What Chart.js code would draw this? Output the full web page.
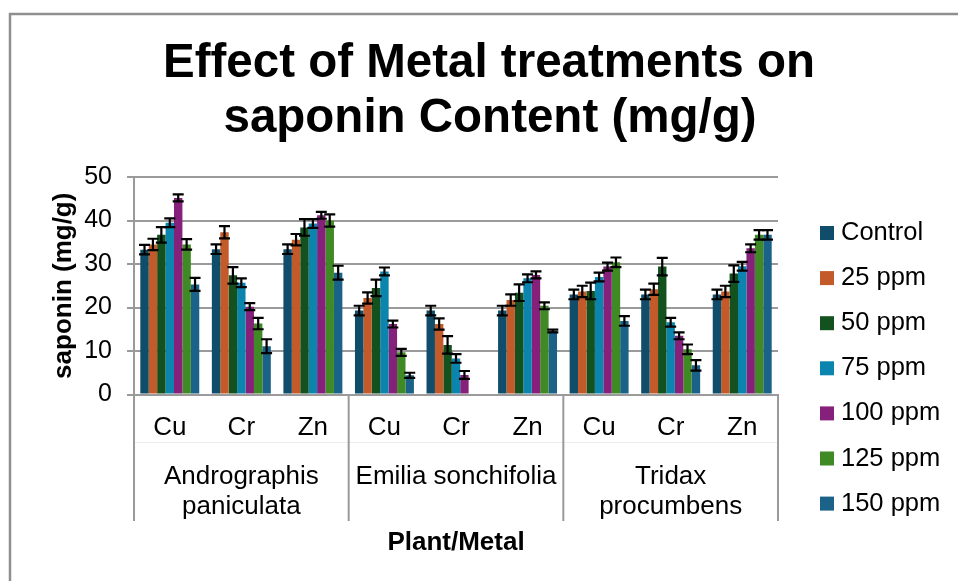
<!DOCTYPE html>
<html>
<head>
<meta charset="utf-8">
<title>Effect of Metal treatments on saponin Content</title>
<script src="https://cdn.jsdelivr.net/npm/chart.js@4"></script>
<style>
  html, body { margin: 0; padding: 0; background: #fff; }
  #wrap { width: 958px; height: 581px; }
</style>
</head>
<body>
<div id="wrap"><canvas id="chart" width="958" height="581"></canvas></div>
<script>
// categories (metal under each plant)
const metals = ['Cu', 'Cr', 'Zn', 'Cu', 'Cr', 'Zn', 'Cu', 'Cr', 'Zn'];
const plants = [['Andrographis', 'paniculata'], ['Emilia sonchifolia'], ['Tridax', 'procumbens']];
const doses = ['Control', '25 ppm', '50 ppm', '75 ppm', '100 ppm', '125 ppm', '150 ppm'];

// saponin (mg/g), one array per dose
const control = [33.3, 33.4, 33.4, 19.3, 19.3, 19.3, 23.0, 23.0, 23.0];
const ppm25   = [34.5, 37.3, 35.6, 22.2, 16.2, 21.7, 23.7, 24.2, 23.7];
const ppm50   = [36.7, 27.4, 38.4, 24.5, 11.4, 23.4, 23.8, 29.4, 27.8];
const ppm75   = [39.5, 25.7, 39.3, 28.3, 8.3, 26.7, 27.0, 16.6, 29.5];
const ppm100  = [45.2, 20.2, 41.2, 16.2, 4.5, 27.5, 29.4, 13.5, 33.6];
const ppm125  = [34.5, 16.3, 40.0, 9.7, 0, 20.4, 30.4, 10.4, 36.7];
const ppm150  = [25.3, 11.1, 28.0, 4.4, 0, 14.6, 16.9, 6.7, 36.7];

// error bar half-lengths
const errControl = [1.1, 1.1, 1.1, 1.1, 1.1, 1.1, 1.1, 1.1, 1.1];
const err25      = [1.3, 1.4, 1.3, 1.3, 1.3, 1.3, 1.3, 1.3, 1.3];
const err50      = [1.8, 1.9, 1.9, 1.9, 2.0, 1.9, 1.9, 2.0, 1.9];
const err75      = [1.0, 1.0, 1.0, 0.9, 1.0, 0.9, 1.0, 1.0, 1.0];
const err100     = [0.8, 0.8, 0.8, 0.8, 0.9, 0.8, 0.9, 0.8, 0.9];
const err125     = [1.2, 1.3, 1.4, 0.8, 0, 0.8, 1.1, 1.1, 1.1];
const err150     = [1.5, 1.6, 1.6, 0.6, 0, 0.3, 1.1, 1.2, 1.1];

const yTicks = [0, 10, 20, 30, 40, 50];

const colors = ['#0f4d6b', '#c35a2a', '#13521f', '#0b84ae', '#85207b', '#3f8a24', '#1a6287'];
const series = [control, ppm25, ppm50, ppm75, ppm100, ppm125, ppm150];
const errors = [errControl, err25, err50, err75, err100, err125, err150];

const FONT = '"Liberation Sans", Arial, sans-serif';
const GRID = '#9a9a9a';

// frame, title, legend, plant labels, error bars
const decor = {
  id: 'decor',
  beforeDraw(chart) {
    const ctx = chart.ctx;
    ctx.save();
    ctx.strokeStyle = '#8f8f8f';
    ctx.lineWidth = 2.5;
    ctx.strokeRect(10, 14, 1000, 1000);
    ctx.restore();
  },
  afterDatasetsDraw(chart) {
    const ctx = chart.ctx;
    const y = chart.scales.y;
    ctx.save();
    ctx.strokeStyle = '#000';
    ctx.lineWidth = 2.2;
    chart.data.datasets.forEach((ds, d) => {
      const meta = chart.getDatasetMeta(d);
      meta.data.forEach((bar, i) => {
        const v = ds.data[i], e = errors[d][i];
        if (!v) return;
        const top = y.getPixelForValue(v + e), bot = y.getPixelForValue(v - e);
        const half = 5.5;
        ctx.beginPath();
        ctx.moveTo(bar.x, top); ctx.lineTo(bar.x, bot);
        ctx.moveTo(bar.x - half, top); ctx.lineTo(bar.x + half, top);
        ctx.moveTo(bar.x - half, bot); ctx.lineTo(bar.x + half, bot);
        ctx.stroke();
      });
    });
    ctx.restore();
  },
  afterDraw(chart) {
    const ctx = chart.ctx;
    const x = chart.scales.x;
    const area = chart.chartArea;
    ctx.save();

    // title
    ctx.fillStyle = '#000';
    ctx.textAlign = 'center';
    ctx.textBaseline = 'alphabetic';
    ctx.font = 'bold 47.5px ' + FONT;
    ctx.fillText('Effect of Metal treatments on', 489, 77);
    ctx.fillText('saponin Content (mg/g)', 490, 131.5);

    // category axis separators
    const step = x.getPixelForValue(1) - x.getPixelForValue(0);
    const bounds = [x.left, x.getPixelForValue(2) + step / 2, x.getPixelForValue(5) + step / 2, x.right];
    ctx.strokeStyle = '#ededed';
    ctx.lineWidth = 1;
    ctx.beginPath();
    ctx.moveTo(bounds[0], 442.5); ctx.lineTo(bounds[3], 442.5);
    ctx.stroke();
    ctx.strokeStyle = GRID;
    ctx.lineWidth = 2;
    ctx.beginPath();
    bounds.forEach(bx => { ctx.moveTo(bx, area.bottom); ctx.lineTo(bx, 521); });
    ctx.stroke();

    // plant labels
    ctx.font = '26px ' + FONT;
    ctx.textBaseline = 'middle';
    plants.forEach((lines, g) => {
      const cx = x.getPixelForValue(g * 3 + 1);
      lines.forEach((t, k) => ctx.fillText(t, cx, 477 + k * 29.5));
    });

    // legend
    ctx.font = '25.5px ' + FONT;
    ctx.textAlign = 'left';
    chart.data.datasets.forEach((ds, i) => {
      const ly = 233 + i * 45.1;
      ctx.fillStyle = ds.backgroundColor;
      ctx.fillRect(820, ly - 7, 14, 14);
      ctx.fillStyle = '#000';
      ctx.fillText(ds.label, 841, ly);
    });
    ctx.restore();
  }
};

new Chart(document.getElementById('chart'), {
  type: 'bar',
  data: {
    labels: metals,
    datasets: doses.map((name, i) => ({
      label: name,
      data: series[i],
      backgroundColor: colors[i],
      borderWidth: 0,
      barPercentage: 1,
      categoryPercentage: 0.824
    }))
  },
  options: {
    responsive: false,
    animation: false,
    devicePixelRatio: 1,
    layout: { padding: { top: 177, right: 180, left: 0, bottom: 0 } },
    plugins: {
      legend: { display: false },
      title: { display: false },
      tooltip: { enabled: false }
    },
    scales: {
      x: {
        grid: { display: false },
        border: { color: GRID, width: 2 },
        ticks: {
          color: '#000', font: { family: FONT, size: 26 },
          padding: 10, maxRotation: 0, autoSkip: false
        },
        title: {
          display: true, text: 'Plant/Metal', color: '#000',
          font: { family: FONT, size: 26, weight: 'bold' },
          padding: { top: 0, bottom: 23 }
        },
        afterFit(scale) { scale.height = 186.5; }
      },
      y: {
        min: 0, max: 50,
        afterBuildTicks(scale) { scale.ticks = yTicks.map(v => ({ value: v })); },
        grid: { color: GRID, lineWidth: 2, tickLength: 7, drawTicks: true },
        border: { color: GRID, width: 2 },
        ticks: { color: '#000', font: { family: FONT, size: 25 }, padding: 15 },
        title: {
          display: true, text: 'saponin (mg/g)', color: '#000',
          font: { family: FONT, size: 26, weight: 'bold' },
          padding: { top: 48, bottom: 0 }
        },
        afterFit(scale) { scale.width = 134; }
      }
    }
  },
  plugins: [decor]
});
</script>
</body>
</html>
